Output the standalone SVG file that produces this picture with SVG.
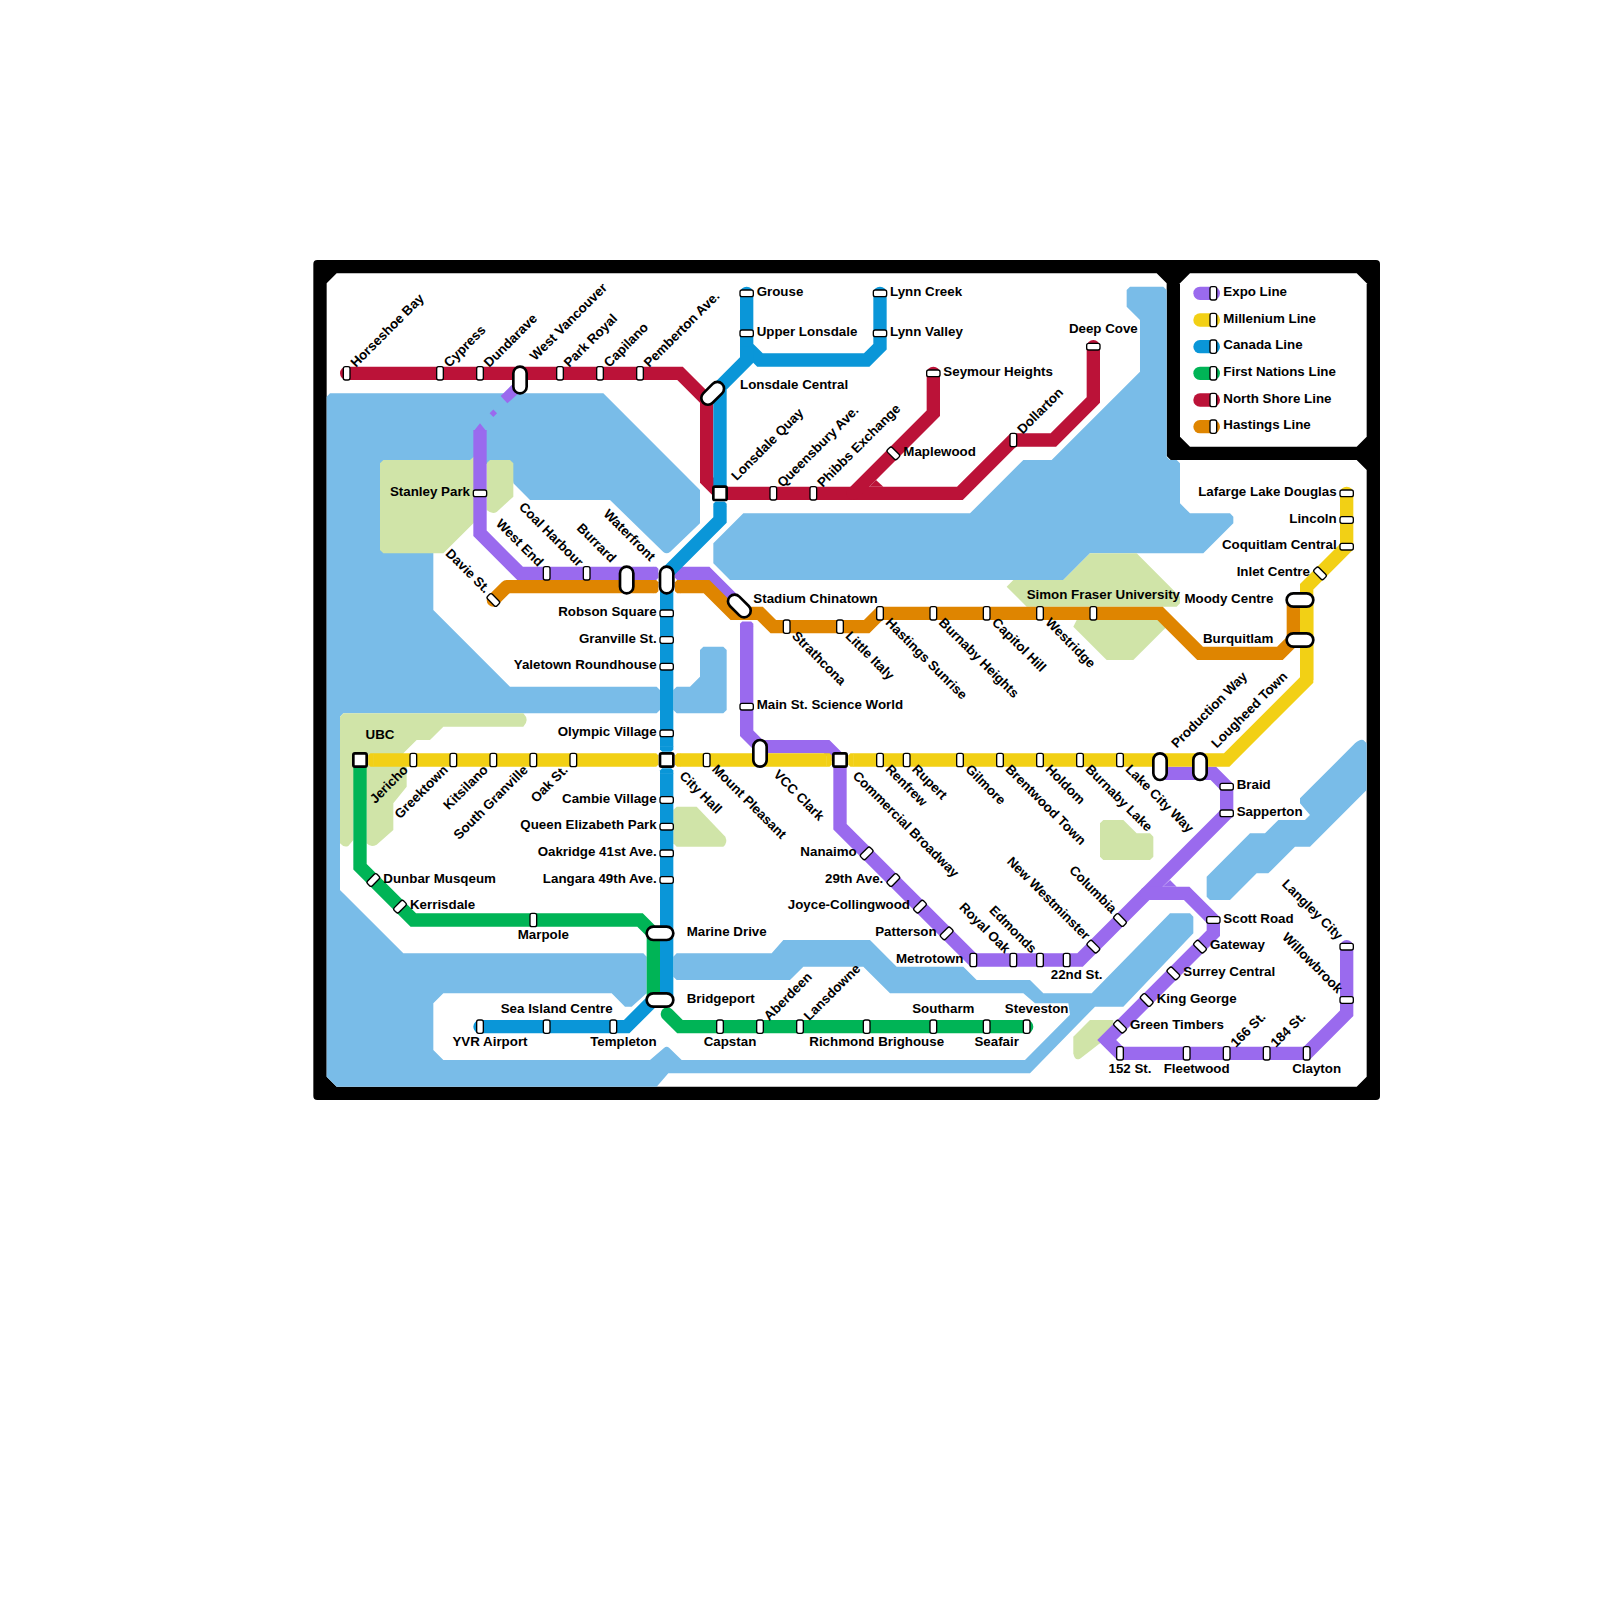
<svg xmlns="http://www.w3.org/2000/svg" width="1600" height="1600" viewBox="0 0 1600 1600">
<style>
.t{font-family:"Liberation Sans",Arial,sans-serif;font-weight:bold;font-size:1px;fill:#000}
text[x]{transform:translateY(-.05px)}
.e{text-anchor:end}.m{text-anchor:middle}
.water{fill:#79bce8}.park{fill:#d0e4a8}
.l{fill:none;stroke-width:1;stroke-linecap:round;stroke-linejoin:miter}
.b{stroke-linecap:butt}
.expo{stroke:#9a6aee}.mill{stroke:#f2d015}.can{stroke:#0a96d8}.fn{stroke:#00b456}.ns{stroke:#bb1238}.hast{stroke:#df8500}
.fexpo{fill:#9a6aee}.fmill{fill:#f2d015}.fcan{fill:#0a96d8}.fns{fill:#bb1238}.fhast{fill:#df8500}
.st{fill:#fff;stroke:#000;stroke-width:.1}
.ic{fill:#fff;stroke:#000;stroke-width:.2}
</style>
<defs>
<rect id="s" class="st" x="-.25" y="-.5" width=".5" height="1" rx=".15"/>
<rect id="i" class="ic" x="-.5" y="-1" width="1" height="2" rx=".5"/>
<rect id="q" class="ic" x="-.5" y="-.5" width="1" height="1" rx=".12"/>
<path id="c" d="M-.03-.5H.22L.38-.34V.34L.22.5H-.03Z"/>
</defs>
<g transform="scale(13.33333)">
<g id="frame">
<rect x="23.5" y="19.5" width="80" height="63" rx=".3" fill="#000"/>
<path fill="#fff" d="M25.25,20.5H86.75L87.5,21.25V34.2L87.8,34.5H101.75L102.5,35.25V80.75L101.75,81.5H25.25L24.5,80.75V21.25Z"/>
<path fill="#fff" d="M89.25,20.5H101.75L102.5,21.25V32.75L101.75,33.5H89.25L88.5,32.75V21.25Z"/>
</g>
<g id="water">
<path class="water" d="M24.5,29.75L24.75,29.5H45.25L52.5,36.75V39.25L50.25,41.4Q50,41.6 49.75,41.4L45.75,37.5H39.75L38.5,36.25L38.3,34.8H29V41H32.5V45.75L38.25,51.5H49.25L49.5,51.75V53.25L49.25,53.5H25.75L25.5,53.75V66.75L30.25,71.5H48.25L48.5,71.75V74.5L47.375,75.5H46.875L45.875,74.5H33.25L32.5,75.25V78.75L33.25,79.5H48.75L49.8,78.6Q50,78.4 50.2,78.6L51.125,79.5H76.875L80.25,76.1L80.125,75.25H77.625L76.75,74.5H66.75L64.75,72.5H60.25L59.25,73.5H50.75L50.5,73.25V71.75L50.75,71.5H57.875L58.75,70.5H65.25L67.25,72.5H72.25L73.25,73.5H77.25L78.25,74.5H81.875L87.75,68.5H89.25L89.5,68.75V70L84.25,75.5H82.125L77.25,80.5H50.125L49.25,81.5H25.25L24.5,80.75Z"/>
<path class="water" d="M50.5,51.75L50.75,51.5H51.75L52.5,50.75V48.75L52.75,48.5H54.25L54.5,48.75V53.25L54.25,53.5H50.75L50.5,53.25Z"/>
<path class="water" d="M53.5,40.75L55.75,38.5H72.75L76.75,34.5H78.875L85.5,27.875V24L84.5,23V21.75L84.75,21.5H87.25L87.5,21.75V34.25L87.75,34.5H88.25L88.5,34.75V37.75L89.25,38.5H92.25L92.5,38.75V39.25L90.25,41.5H81.75L79.75,43.5H54.75L53.5,42.25Z"/>
<path class="water" d="M97.5,59.875L101.625,55.75Q102,55.4 102.25,55.5L102.5,55.75V59.25L98.25,63.5H97.125L95.125,65.5H94.25L92.25,67.5H90.75L90.5,67.25V65.75L93.75,62.5H94.875L95.875,61.5H97.875L98.25,61.125L97.5,60.25Z"/>
</g>
<g id="parks">
<path class="park" d="M28.5,34.75L28.75,34.5H35.25L35.6,34.2V39.15L33.25,41.5H28.75L28.5,41.25Z"/>
<path class="park" d="M36.5,34.75L36.75,34.5H38.25L38.5,34.75V37.25L37.25,38.4Q36.9,38.6 36.5,38.25Z"/>
<path class="park" d="M25.5,53.75L25.75,53.5H39.25Q39.5,53.75 39.5,54T39.25,54.5H33.25L32.25,55.5H31.25L30.25,56.5V57.5H30.5V59L29.5,60.25V62.25L28.25,63.35Q27.8,63.6 27.5,63.25V60H26.5V63L26.125,63.45Q25.8,63.6 25.5,63.25Z"/>
<path class="park" d="M50.5,60.75L50.75,60.5H52.25L54.4,62.75Q54.6,63.2 54.25,63.5H50.75L50.5,63.25Z"/>
<path class="park" d="M75.5,44L76,43.5H79.75L81.75,41.5H85.25L88.5,44.75V45.25L88.25,45.5H77Z"/>
<path class="park" d="M80.5,47L80.75,46.5H87.25L87.5,47L85,49.5H83Z"/>
<path class="park" d="M82.5,61.75L82.75,61.5H84.25L85.25,62.5H86.25L86.5,62.75V64.25L86.25,64.5H82.75L82.5,64.25Z"/>
<path class="park" d="M80.5,77.75L81.75,76.5H83.5V77.25L82.5,78.25L81,79.4Q80.6,79.6 80.5,79Z"/>
</g>
<g id="connectors">
<path id="expo-1" class="l b expo" d="M36,32.25V40L39,43H49"/>
<path class="fexpo" d="M35.55,32.3L36,31.75L36.45,32.3ZM38.375,28.875L37.55,29.7L38.05,30.25L39,29.4ZM37,30.72L37.28,31L37,31.28L36.72,31Z"/>
<use href="#c" class="fexpo" transform="translate(49,43)"/>
<use href="#c" class="fexpo" transform="translate(51,43) rotate(180)"/>
<path id="expo-2" class="l b expo" d="M51,43H53L55.5,45.5"/>
<use href="#c" class="fexpo" transform="translate(56,47) rotate(-90)"/>
<path id="expo-3" class="l b expo" d="M56,47V55L57,56H62L63,57V62L73,72H81L92,61V59L91,58H87"/>
<path id="expo-4" class="l expo" d="M86,67H89L91,69V70L83,78L84,79H98L101,76V71"/>
<path class="fexpo" d="M87.2,66.5L87.75,66L88.25,66.5Z"/>
<path id="hast-1" class="l hast" d="M37,45L38,44"/>
<path class="l b hast" d="M38,44H49"/>
<use href="#c" class="fhast" transform="translate(49,44)"/>
<use href="#c" class="fhast" transform="translate(51,44) rotate(180)"/>
<path id="hast-2" class="l b hast" d="M51,44H53L55,46H57L58,47H65L66,46H87L90,49H96L97,48V45"/>
<path id="ns-1" class="l ns" d="M26,28H51L53,30V36L54,37H72L76,33H79L82,30V26"/>
<path id="ns-2" class="l ns" d="M70,28V31L64,37"/>
<path fill="#bb1238" d="M65.2,36.5L65.7,36L66.25,36.5Z"/>
<path id="can-1" class="l can" d="M56,22V26L57,27H65L66,26V22"/>
<path id="can-2" class="l b can" d="M56,26V27L54,29V37"/>
<path id="can-3" class="l b can" d="M54,38V39L50,43V56"/>
<use href="#c" class="fcan" transform="translate(54,38) rotate(-90)"/>
<use href="#c" class="fcan" transform="translate(50,56) rotate(90)"/>
<use href="#c" class="fcan" transform="translate(50,58) rotate(-90)"/>
<path id="can-4" class="l b can" d="M50,58V75"/>
<path id="can-5" class="l can" d="M49,75L47,77H36"/>
<path id="fn-1" class="l b fn" d="M27,57V65L31,69H48L49,70V75"/>
<path id="fn-2" class="l fn" d="M50.05,76.05L51,77H77"/>
<path id="mill-1" class="l b mill" d="M28,57H49M51,57H62M64,57H92L98,51V44L101,41V37.2"/>
<path class="l mill" d="M101,37.2V37"/>
<path id="mill-2" class="l b mill" d="M98,51V45"/>
<use href="#c" class="fmill" transform="translate(28,57) rotate(180)"/>
<use href="#c" class="fmill" transform="translate(49,57)"/>
<use href="#c" class="fmill" transform="translate(51,57) rotate(180)"/>
<use href="#c" class="fmill" transform="translate(62,57)"/>
<use href="#c" class="fmill" transform="translate(64,57) rotate(180)"/>
</g>
<g id="horseshoe-bay"><use href="#s" transform="translate(26,28)"/><text class="t" transform="translate(26.7,27.6) rotate(-45)">Horseshoe Bay</text></g>
<g id="cypress"><use href="#s" transform="translate(33,28)"/><text class="t" transform="translate(33.7,27.6) rotate(-45)">Cypress</text></g>
<g id="dundarave"><use href="#s" transform="translate(36,28)"/><text class="t" transform="translate(36.7,27.6) rotate(-45)">Dundarave</text></g>
<g id="west-vancouver"><use href="#i" transform="translate(39,28.5)"/><text class="t" transform="translate(40.15,27.1) rotate(-45)">West Vancouver</text></g>
<g id="park-royal"><use href="#s" transform="translate(42,28)"/><text class="t" transform="translate(42.7,27.6) rotate(-45)">Park Royal</text></g>
<g id="capilano"><use href="#s" transform="translate(45,28)"/><text class="t" transform="translate(45.7,27.6) rotate(-45)">Capilano</text></g>
<g id="pemberton-ave"><use href="#s" transform="translate(48,28)"/><text class="t" transform="translate(48.7,27.6) rotate(-45)">Pemberton Ave.</text></g>
<g id="lonsdale-central"><use href="#i" transform="translate(53.45,29.5) rotate(45)"/><text class="t" x="55.5" y="29.25">Lonsdale Central</text></g>
<g id="lonsdale-quay"><use href="#q" transform="translate(54,37)"/><text class="t" transform="translate(55.25,36.1) rotate(-45)">Lonsdale Quay</text></g>
<g id="queensbury-ave"><use href="#s" transform="translate(58,37)"/><text class="t" transform="translate(58.7,36.6) rotate(-45)">Queensbury Ave.</text></g>
<g id="phibbs-exchange"><use href="#s" transform="translate(61,37)"/><text class="t" transform="translate(61.7,36.6) rotate(-45)">Phibbs Exchange</text></g>
<g id="maplewood"><use href="#s" transform="translate(67,34) rotate(-45)"/><text class="t" x="67.75" y="34.25">Maplewood</text></g>
<g id="seymour-heights"><use href="#s" transform="translate(70,28) rotate(90)"/><text class="t" x="70.75" y="28.25">Seymour Heights</text></g>
<g id="dollarton"><use href="#s" transform="translate(76,33)"/><text class="t" transform="translate(76.7,32.6) rotate(-45)">Dollarton</text></g>
<g id="deep-cove"><use href="#s" transform="translate(82,26) rotate(90)"/><text class="t m" x="82.75" y="25">Deep Cove</text></g>
<g id="grouse"><use href="#s" transform="translate(56,22) rotate(90)"/><text class="t" x="56.75" y="22.25">Grouse</text></g>
<g id="upper-lonsdale"><use href="#s" transform="translate(56,25) rotate(90)"/><text class="t" x="56.75" y="25.25">Upper Lonsdale</text></g>
<g id="lynn-creek"><use href="#s" transform="translate(66,22) rotate(90)"/><text class="t" x="66.75" y="22.25">Lynn Creek</text></g>
<g id="lynn-valley"><use href="#s" transform="translate(66,25) rotate(90)"/><text class="t" x="66.75" y="25.25">Lynn Valley</text></g>
<g id="stanley-park"><use href="#s" transform="translate(36,37) rotate(90)"/><text class="t e" x="35.25" y="37.25">Stanley Park</text></g>
<g id="davie-st"><use href="#s" transform="translate(37,45) rotate(-45)"/><text class="t e" transform="translate(36.35,44.55) rotate(45)">Davie St.</text></g>
<g id="west-end"><use href="#s" transform="translate(41,43)"/><text class="t e" transform="translate(40.35,42.55) rotate(45)">West End</text></g>
<g id="coal-harbour"><use href="#s" transform="translate(44,43)"/><text class="t e" transform="translate(43.35,42.55) rotate(45)">Coal Harbour</text></g>
<g id="burrard"><use href="#i" transform="translate(47,43.5)"/><text class="t e" transform="translate(45.8,42.25) rotate(45)">Burrard</text></g>
<g id="waterfront"><use href="#i" transform="translate(50,43.5)"/><text class="t e" transform="translate(48.75,42.15) rotate(45)">Waterfront</text></g>
<g id="robson-square"><use href="#s" transform="translate(50,46) rotate(90)"/><text class="t e" x="49.25" y="46.25">Robson Square</text></g>
<g id="granville-st"><use href="#s" transform="translate(50,48) rotate(90)"/><text class="t e" x="49.25" y="48.25">Granville St.</text></g>
<g id="yaletown-roundhouse"><use href="#s" transform="translate(50,50) rotate(90)"/><text class="t e" x="49.25" y="50.25">Yaletown Roundhouse</text></g>
<g id="olympic-village"><use href="#s" transform="translate(50,55) rotate(90)"/><text class="t e" x="49.25" y="55.25">Olympic Village</text></g>
<g id="city-hall"><use href="#q" transform="translate(50,57)"/><text class="t" transform="translate(50.9,58.25) rotate(45)">City Hall</text></g>
<g id="cambie-village"><use href="#s" transform="translate(50,60) rotate(90)"/><text class="t e" x="49.25" y="60.25">Cambie Village</text></g>
<g id="queen-elizabeth-park"><use href="#s" transform="translate(50,62) rotate(90)"/><text class="t e" x="49.25" y="62.25">Queen Elizabeth Park</text></g>
<g id="oakridge-41st"><use href="#s" transform="translate(50,64) rotate(90)"/><text class="t e" x="49.25" y="64.25">Oakridge 41st Ave.</text></g>
<g id="langara-49th"><use href="#s" transform="translate(50,66) rotate(90)"/><text class="t e" x="49.25" y="66.25">Langara 49th Ave.</text></g>
<g id="marine-drive"><use href="#i" transform="translate(49.5,70) rotate(90)"/><text class="t" x="51.5" y="70.25">Marine Drive</text></g>
<g id="bridgeport"><use href="#i" transform="translate(49.5,75) rotate(90)"/><text class="t" x="51.5" y="75.25">Bridgeport</text></g>
<g id="ubc"><use href="#q" transform="translate(27,57)"/><text class="t m" x="28.5" y="55.5">UBC</text></g>
<g id="jericho"><use href="#s" transform="translate(31,57)"/><text class="t e" transform="translate(30.65,57.8) rotate(-45)">Jericho</text></g>
<g id="greektown"><use href="#s" transform="translate(34,57)"/><text class="t e" transform="translate(33.65,57.8) rotate(-45)">Greektown</text></g>
<g id="kitsilano"><use href="#s" transform="translate(37,57)"/><text class="t e" transform="translate(36.65,57.8) rotate(-45)">Kitsilano</text></g>
<g id="south-granville"><use href="#s" transform="translate(40,57)"/><text class="t e" transform="translate(39.65,57.8) rotate(-45)">South Granville</text></g>
<g id="oak-st"><use href="#s" transform="translate(43,57)"/><text class="t e" transform="translate(42.65,57.8) rotate(-45)">Oak St.</text></g>
<g id="mount-pleasant"><use href="#s" transform="translate(53,57)"/><text class="t" transform="translate(53.35,57.75) rotate(45)">Mount Pleasant</text></g>
<g id="vcc-clark"><use href="#i" transform="translate(57,56.5)"/><text class="t" transform="translate(57.95,58.15) rotate(45)">VCC Clark</text></g>
<g id="commercial-broadway"><use href="#q" transform="translate(63,57)"/><text class="t" transform="translate(63.9,58.25) rotate(45)">Commercial Broadway</text></g>
<g id="renfrew"><use href="#s" transform="translate(66,57)"/><text class="t" transform="translate(66.35,57.75) rotate(45)">Renfrew</text></g>
<g id="rupert"><use href="#s" transform="translate(68,57)"/><text class="t" transform="translate(68.35,57.75) rotate(45)">Rupert</text></g>
<g id="gilmore"><use href="#s" transform="translate(72,57)"/><text class="t" transform="translate(72.35,57.75) rotate(45)">Gilmore</text></g>
<g id="brentwood-town"><use href="#s" transform="translate(75,57)"/><text class="t" transform="translate(75.35,57.75) rotate(45)">Brentwood Town</text></g>
<g id="holdom"><use href="#s" transform="translate(78,57)"/><text class="t" transform="translate(78.35,57.75) rotate(45)">Holdom</text></g>
<g id="burnaby-lake"><use href="#s" transform="translate(81,57)"/><text class="t" transform="translate(81.35,57.75) rotate(45)">Burnaby Lake</text></g>
<g id="lake-city-way"><use href="#s" transform="translate(84,57)"/><text class="t" transform="translate(84.35,57.75) rotate(45)">Lake City Way</text></g>
<g id="production-way"><use href="#i" transform="translate(87,57.5)"/><text class="t" transform="translate(88.25,56.15) rotate(-45)">Production Way</text></g>
<g id="lougheed-town"><use href="#i" transform="translate(90,57.5)"/><text class="t" transform="translate(91.25,56.15) rotate(-45)">Lougheed Town</text></g>
<g id="braid"><use href="#s" transform="translate(92,59) rotate(90)"/><text class="t" x="92.75" y="59.25">Braid</text></g>
<g id="sapperton"><use href="#s" transform="translate(92,61) rotate(90)"/><text class="t" x="92.75" y="61.25">Sapperton</text></g>
<g id="main-st"><use href="#s" transform="translate(56,53) rotate(90)"/><text class="t" x="56.75" y="53.25">Main St. Science World</text></g>
<g id="stadium-chinatown"><use href="#i" transform="translate(55.45,45.45) rotate(-45)"/><text class="t" x="56.5" y="45.25">Stadium Chinatown</text></g>
<g id="strathcona"><use href="#s" transform="translate(59,47)"/><text class="t" transform="translate(59.35,47.75) rotate(45)">Strathcona</text></g>
<g id="little-italy"><use href="#s" transform="translate(63,47)"/><text class="t" transform="translate(63.35,47.75) rotate(45)">Little Italy</text></g>
<g id="hastings-sunrise"><use href="#s" transform="translate(66,46)"/><text class="t" transform="translate(66.35,46.75) rotate(45)">Hastings Sunrise</text></g>
<g id="burnaby-heights"><use href="#s" transform="translate(70,46)"/><text class="t" transform="translate(70.35,46.75) rotate(45)">Burnaby Heights</text></g>
<g id="capitol-hill"><use href="#s" transform="translate(74,46)"/><text class="t" transform="translate(74.35,46.75) rotate(45)">Capitol Hill</text></g>
<g id="westridge"><use href="#s" transform="translate(78,46)"/><text class="t" transform="translate(78.35,46.75) rotate(45)">Westridge</text></g>
<g id="simon-fraser"><use href="#s" transform="translate(82,46)"/><text class="t m" x="82.75" y="45">Simon Fraser University</text></g>
<g id="moody-centre"><use href="#i" transform="translate(97.5,45) rotate(90)"/><text class="t e" x="95.5" y="45.25">Moody Centre</text></g>
<g id="burquitlam"><use href="#i" transform="translate(97.5,48) rotate(90)"/><text class="t e" x="95.5" y="48.25">Burquitlam</text></g>
<g id="inlet-centre"><use href="#s" transform="translate(99,43) rotate(-45)"/><text class="t e" x="98.25" y="43.25">Inlet Centre</text></g>
<g id="coquitlam-central"><use href="#s" transform="translate(101,41) rotate(90)"/><text class="t e" x="100.25" y="41.25">Coquitlam Central</text></g>
<g id="lincoln"><use href="#s" transform="translate(101,39) rotate(90)"/><text class="t e" x="100.25" y="39.25">Lincoln</text></g>
<g id="lafarge-lake-douglas"><use href="#s" transform="translate(101,37) rotate(90)"/><text class="t e" x="100.25" y="37.25">Lafarge Lake Douglas</text></g>
<g id="nanaimo"><use href="#s" transform="translate(65,64) rotate(45)"/><text class="t e" x="64.25" y="64.25">Nanaimo</text></g>
<g id="ave-29th"><use href="#s" transform="translate(67,66) rotate(45)"/><text class="t e" x="66.25" y="66.25">29th Ave.</text></g>
<g id="joyce-collingwood"><use href="#s" transform="translate(69,68) rotate(45)"/><text class="t e" x="68.25" y="68.25">Joyce-Collingwood</text></g>
<g id="patterson"><use href="#s" transform="translate(71,70) rotate(45)"/><text class="t e" x="70.25" y="70.25">Patterson</text></g>
<g id="metrotown"><use href="#s" transform="translate(73,72)"/><text class="t e" x="72.25" y="72.25">Metrotown</text></g>
<g id="royal-oak"><use href="#s" transform="translate(76,72)"/><text class="t e" transform="translate(75.35,71.55) rotate(45)">Royal Oak</text></g>
<g id="edmonds"><use href="#s" transform="translate(78,72)"/><text class="t e" transform="translate(77.35,71.55) rotate(45)">Edmonds</text></g>
<g id="st-22nd"><use href="#s" transform="translate(80,72)"/><text class="t m" x="80.75" y="73.5">22nd St.</text></g>
<g id="new-westminster"><use href="#s" transform="translate(82,71) rotate(-45)"/><text class="t e" transform="translate(81.35,70.55) rotate(45)">New Westminster</text></g>
<g id="columbia"><use href="#s" transform="translate(84,69) rotate(-45)"/><text class="t e" transform="translate(83.35,68.55) rotate(45)">Columbia</text></g>
<g id="scott-road"><use href="#s" transform="translate(91,69) rotate(90)"/><text class="t" x="91.75" y="69.25">Scott Road</text></g>
<g id="gateway"><use href="#s" transform="translate(90,71) rotate(-45)"/><text class="t" x="90.75" y="71.25">Gateway</text></g>
<g id="surrey-central"><use href="#s" transform="translate(88,73) rotate(-45)"/><text class="t" x="88.75" y="73.25">Surrey Central</text></g>
<g id="king-george"><use href="#s" transform="translate(86,75) rotate(-45)"/><text class="t" x="86.75" y="75.25">King George</text></g>
<g id="green-timbers"><use href="#s" transform="translate(84,77) rotate(-45)"/><text class="t" x="84.75" y="77.25">Green Timbers</text></g>
<g id="st-152"><use href="#s" transform="translate(84,79)"/><text class="t m" x="84.75" y="80.5">152 St.</text></g>
<g id="fleetwood"><use href="#s" transform="translate(89,79)"/><text class="t m" x="89.75" y="80.5">Fleetwood</text></g>
<g id="st-166"><use href="#s" transform="translate(92,79)"/><text class="t" transform="translate(92.7,78.6) rotate(-45)">166 St.</text></g>
<g id="st-184"><use href="#s" transform="translate(95,79)"/><text class="t" transform="translate(95.7,78.6) rotate(-45)">184 St.</text></g>
<g id="clayton"><use href="#s" transform="translate(98,79)"/><text class="t m" x="98.75" y="80.5">Clayton</text></g>
<g id="willowbrook"><use href="#s" transform="translate(101,75) rotate(90)"/><text class="t e" transform="translate(100.3,74.55) rotate(45)">Willowbrook</text></g>
<g id="langley-city"><use href="#s" transform="translate(101,71) rotate(90)"/><text class="t e" transform="translate(100.3,70.55) rotate(45)">Langley City</text></g>
<g id="yvr-airport"><use href="#s" transform="translate(36,77)"/><text class="t m" x="36.75" y="78.5">YVR Airport</text></g>
<g id="sea-island-centre"><use href="#s" transform="translate(41,77)"/><text class="t m" x="41.75" y="76">Sea Island Centre</text></g>
<g id="templeton"><use href="#s" transform="translate(46,77)"/><text class="t m" x="46.75" y="78.5">Templeton</text></g>
<g id="capstan"><use href="#s" transform="translate(54,77)"/><text class="t m" x="54.75" y="78.5">Capstan</text></g>
<g id="aberdeen"><use href="#s" transform="translate(57,77)"/><text class="t" transform="translate(57.7,76.6) rotate(-45)">Aberdeen</text></g>
<g id="lansdowne"><use href="#s" transform="translate(60,77)"/><text class="t" transform="translate(60.7,76.6) rotate(-45)">Lansdowne</text></g>
<g id="richmond-brighouse"><use href="#s" transform="translate(65,77)"/><text class="t m" x="65.75" y="78.5">Richmond Brighouse</text></g>
<g id="southarm"><use href="#s" transform="translate(70,77)"/><text class="t m" x="70.75" y="76">Southarm</text></g>
<g id="seafair"><use href="#s" transform="translate(74,77)"/><text class="t m" x="74.75" y="78.5">Seafair</text></g>
<g id="steveston"><use href="#s" transform="translate(77,77)"/><text class="t m" x="77.75" y="76">Steveston</text></g>
<g id="dunbar-musqeum"><use href="#s" transform="translate(28,66) rotate(45)"/><text class="t" x="28.75" y="66.25">Dunbar Musqeum</text></g>
<g id="kerrisdale"><use href="#s" transform="translate(30,68) rotate(45)"/><text class="t" x="30.75" y="68.25">Kerrisdale</text></g>
<g id="marpole"><use href="#s" transform="translate(40,69)"/><text class="t m" x="40.75" y="70.5">Marpole</text></g>
<g id="legend-expo"><path class="l expo" d="M90,22H91"/><use href="#s" transform="translate(91,22)"/><text class="t" x="91.75" y="22.25">Expo Line</text></g>
<g id="legend-millenium"><path class="l mill" d="M90,24H91"/><use href="#s" transform="translate(91,24)"/><text class="t" x="91.75" y="24.25">Millenium Line</text></g>
<g id="legend-canada"><path class="l can" d="M90,26H91"/><use href="#s" transform="translate(91,26)"/><text class="t" x="91.75" y="26.25">Canada Line</text></g>
<g id="legend-first-nations"><path class="l fn" d="M90,28H91"/><use href="#s" transform="translate(91,28)"/><text class="t" x="91.75" y="28.25">First Nations Line</text></g>
<g id="legend-north-shore"><path class="l ns" d="M90,30H91"/><use href="#s" transform="translate(91,30)"/><text class="t" x="91.75" y="30.25">North Shore Line</text></g>
<g id="legend-hastings"><path class="l hast" d="M90,32H91"/><use href="#s" transform="translate(91,32)"/><text class="t" x="91.75" y="32.25">Hastings Line</text></g>
</g>
</svg>
